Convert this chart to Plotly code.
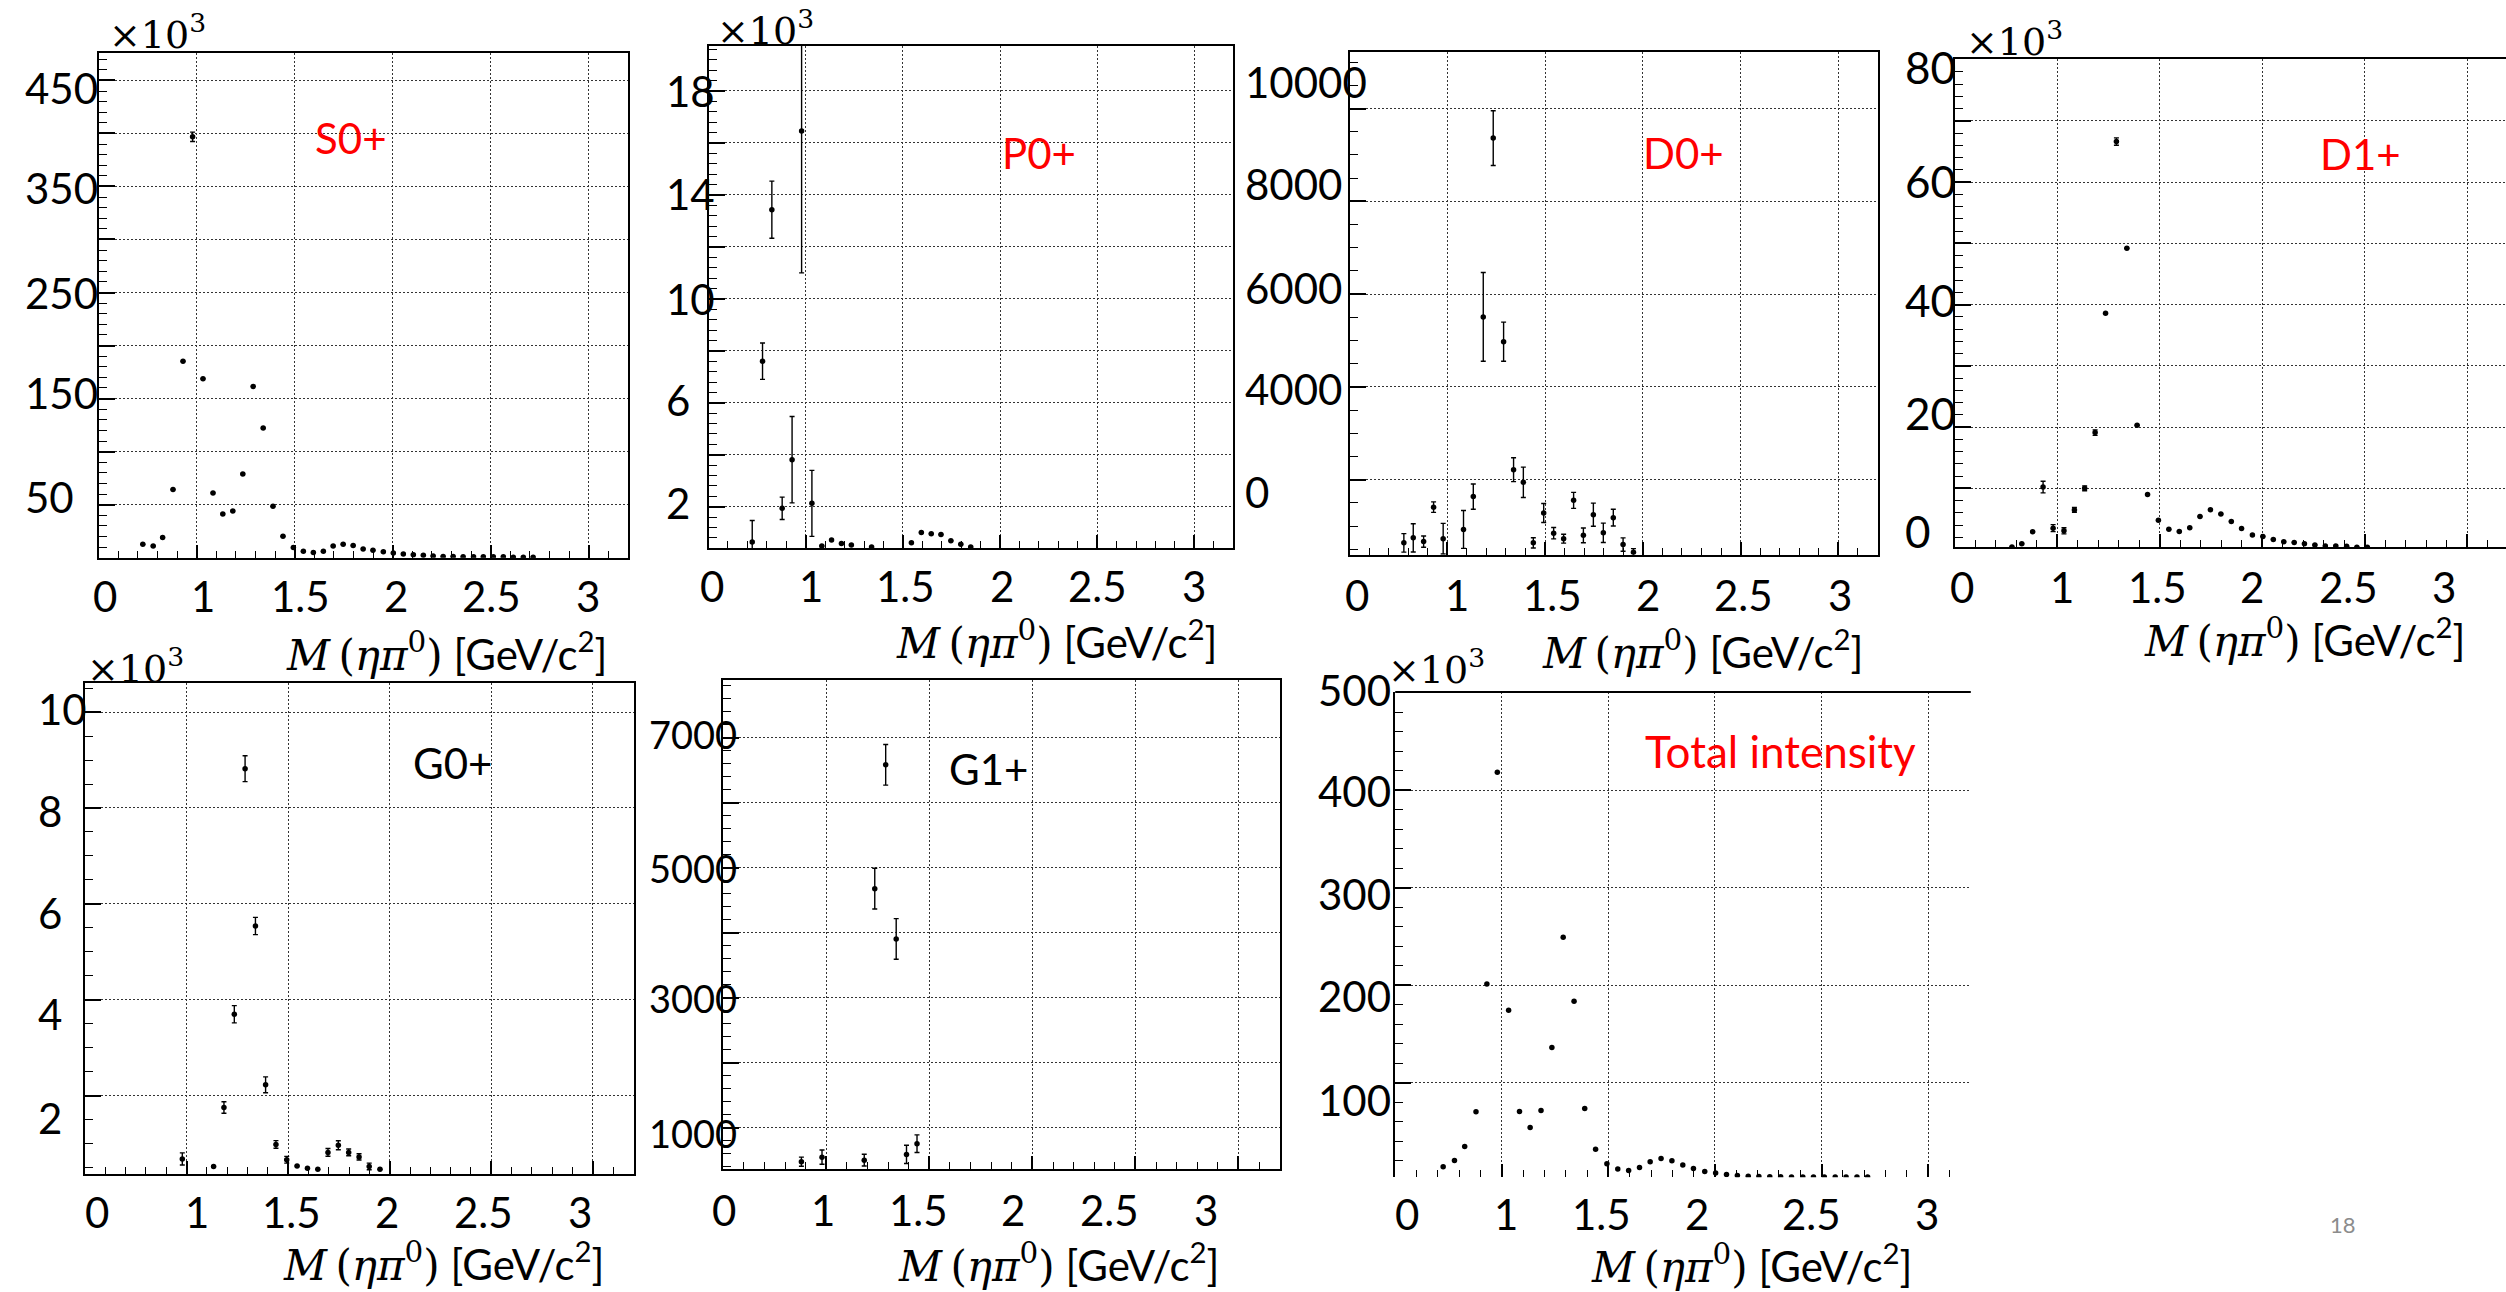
import plotly.graph_objects as go

# ---------------- data ----------------
# bin centres of M(eta pi0) [GeV/c^2], shared by all panels
mass = [0.725, 0.778, 0.826, 0.879, 0.930, 0.979, 1.032, 1.083, 1.133, 1.184,
        1.235, 1.288, 1.339, 1.389, 1.440, 1.493, 1.544, 1.595, 1.646, 1.696,
        1.747, 1.798, 1.849, 1.899, 1.952, 2.003, 2.054, 2.105, 2.156, 2.206,
        2.257, 2.308, 2.359, 2.412, 2.462, 2.513, 2.564, 2.615, 2.666, 2.716]
N = None

# S0+ (x10^3)
s0_y = [12.7, 11.1, 19.0, 64.3, 185.3, 396.8, 168.7, 61.1, 41.3, 44.0,
        79.0, 161.5, 122.2, 48.4, 20.2, 9.5, 6.0, 4.8, 6.0, 11.1,
        12.7, 11.5, 8.3, 7.1, 5.6, 4.4, 3.6, 2.8, 2.4, 1.6,
        1.2, 1.2, 0.8, 0.8, 0.8, 0.8, 0.8, 0.4, 0.4, 0.4]
s0_err = [0, 0, 0, 0, 0, 4.4, 0, 0, 0, 0,
          0, 0, 0, 0, 0, 0, 0, 0, 0, 0,
          0, 0, 0, 0, 0, 0, 0, 0, 0, 0,
          0, 0, 0, 0, 0, 0, 0, 0, 0, 0]

# P0+ (x10^3)
p0_y = [0.64, 7.60, 13.43, 1.94, 3.81, 16.46, 2.13, 0.49, 0.72, 0.59,
        0.53, N, 0.45, N, N, N, 0.61, 1.01, 0.96, 0.93,
        0.69, 0.56, 0.45, N, N, N, N, N, N, N,
        N, N, N, N, N, N, N, N, N, N]
p0_err = [0.83, 0.70, 1.10, 0.43, 1.66, 5.46, 1.27, 0, 0, 0,
          0, N, 0, N, N, N, 0, 0, 0, 0,
          0, 0, 0, N, N, N, N, N, N, N,
          N, N, N, N, N, N, N, N, N, N]

# D0+
d0_y = [N, 640, 748, 667, 1410, 730, N, 930, 1637, 5510,
        9365, 4975, 2218, 1946, 640, 1283, 848, 730, 1556, 803,
        1247, 857, 1184, 603, 440, N, N, N, N, N,
        N, N, N, N, N, N, N, N, N, N]
d0_err = [N, 200, 304, 122, 113, 331, N, 408, 272, 957,
          590, 422, 257, 327, 109, 204, 122, 95, 172, 159,
          249, 209, 181, 145, 77, N, N, N, N, N,
          N, N, N, N, N, N, N, N, N, N]

# D1+ (x10^3)
d1_y = [N, 0.42, 0.96, 2.9, 10.2, 3.5, 3.07, 6.48, 10.0, 19.1,
        38.6, 66.6, 49.2, 20.3, 9.0, 4.8, 3.3, 2.96, 3.55, 5.4,
        6.5, 5.8, 4.6, 3.45, 2.4, 2.15, 1.66, 1.28, 1.17, 0.96,
        0.75, 0.6, 0.6, 0.53, 0.39, 0.39, N, N, N, N]
d1_err = [N, 0, 0, 0, 0.95, 0.57, 0.5, 0.4, 0.4, 0.45,
          0, 0.6, 0, 0, 0, 0, 0, 0, 0, 0,
          0, 0, 0, 0, 0, 0, 0, 0, 0, 0,
          0, 0, 0, 0, 0, 0, N, N, N, N]

# G0+ (x10^3)
g0_y = [N, N, N, N, N, 0.683, N, N, 0.527, 1.757,
        3.70, 8.82, 5.54, 2.23, 0.986, 0.666, 0.536, 0.49, 0.466, 0.82,
        0.969, 0.82, 0.726, 0.527, 0.466, N, N, N, N, N,
        N, N, N, N, N, N, N, N, N, N]
g0_err = [N, N, N, N, N, 0.126, N, N, 0, 0.12,
          0.18, 0.27, 0.18, 0.165, 0.08, 0.07, 0, 0, 0, 0.08,
          0.095, 0.07, 0.065, 0.07, 0, N, N, N, N, N,
          N, N, N, N, N, N, N, N, N, N]

# G1+
g1_y = [N, N, N, 477, N, 547, N, N, N, 501,
        4678, 6584, 3904, 589, 754, N, N, N, N, N,
        N, N, N, N, N, N, N, N, N, N,
        N, N, N, N, N, N, N, N, N, N]
g1_err = [N, N, N, 70, N, 110, N, N, N, 90,
          313, 313, 313, 140, 136, N, N, N, N, N,
          N, N, N, N, N, N, N, N, N, N,
          N, N, N, N, N, N, N, N, N, N]

# Total intensity (x10^3)
tot_y = [13.8, 20.4, 34.8, 70.3, 201.5, 418.6, 174.6, 70.7, 54.3, 71.7,
         136.3, 249.3, 183.6, 73.7, 32.0, 16.9, 11.5, 10.2, 13.2, 19.0,
         22.4, 20.0, 15.6, 12.2, 9.1, 7.4, 6.0, 5.0, 4.3, 4.0,
         3.6, 3.6, 3.5, 3.5, 3.5, 3.4, 3.4, 3.4, 3.3, 3.3]

# tick labels (texts and positions in axis units, as pasted on the slide)
xtick_text = ["0", "1", "1.5", "2", "2.5", "3"]
s0_xtick_pos = [0.530, 1.032, 1.529, 2.016, 2.503, 2.996]
p0_xtick_pos = [0.516, 1.029, 1.513, 2.011, 2.502, 3.000]
d0_xtick_pos = [0.538, 1.048, 1.538, 2.025, 2.516, 3.006]
d1_xtick_pos = [0.532, 1.020, 1.489, 1.951, 2.420, 2.887]
g0_xtick_pos = [0.559, 1.050, 1.518, 1.988, 2.464, 2.936]
g1_xtick_pos = [0.501, 0.983, 1.448, 1.908, 2.373, 2.840]
tot_xtick_pos = [0.555, 1.022, 1.468, 1.918, 2.455, 2.995]

s0_ytick_text = ["450", "350", "250", "150", "50"]
s0_ytick_pos = [443, 349, 250, 155, 57.5]
p0_ytick_text = ["18", "14", "10", "6", "2"]
p0_ytick_pos = [18.0, 14.03, 10.0, 6.11, 2.15]
d0_ytick_text = ["10000", "8000", "6000", "4000", "0"]
d0_ytick_pos = [10571, 8377, 6127, 3950, 1726]
d1_ytick_text = ["80", "60", "40", "20", "0"]
d1_ytick_pos = [78.7, 60.1, 40.8, 22.3, 3.1]
g0_ytick_text = ["10", "8", "6", "4", "2"]
g0_ytick_pos = [10.07, 7.94, 5.82, 3.70, 1.53]
g1_ytick_text = ["7000", "5000", "3000", "1000"]
g1_ytick_pos = [7064, 4998, 2989, 912]
tot_ytick_text = ["500", "400", "300", "200", "100"]
tot_ytick_pos = [502.8, 399.2, 294, 189.4, 82.3]

panel_names = ["S0+", "P0+", "D0+", "D1+", "G0+", "G1+", "Total intensity"]

# ---------------- layout ----------------
W, H = 2506, 1292
FONT = "Lato"
SERIF = "DejaVu Serif"

panels = [
    dict(name=panel_names[0], y=s0_y, e=s0_err, box=(98.7, 628.0, 52.6, 557.7),
         xr=(0.5, 3.2), yr=(0.0, 476.2), g=50, m=10,
         xt=s0_xtick_pos, xpy=596, yt=(s0_ytick_text, s0_ytick_pos), yleft=22.8, ysize=42,
         title=(609, 651), exp=(107, 32), lab=(351, 138), col="red", mirror_y=True, bottom=True),
    dict(name=panel_names[1], y=p0_y, e=p0_err, box=(708.5, 1233.3, 45.5, 548.4),
         xr=(0.5, 3.2), yr=(0.397, 19.75), g=2, m=0.4,
         xt=p0_xtick_pos, xpy=586, yt=(p0_ytick_text, p0_ytick_pos), yleft=663.9, ysize=42,
         title=(1219, 640), exp=(715, 28), lab=(1039, 153), col="red", mirror_y=True, bottom=True),
    dict(name=panel_names[2], y=d0_y, e=d0_err, box=(1349.5, 1877.5, 51.8, 554.7),
         xr=(0.5, 3.2), yr=(385, 11224), g=2000, m=500,
         xt=d0_xtick_pos, xpy=595, yt=(d0_ytick_text, d0_ytick_pos), yleft=1242.8, ysize=42,
         title=(1865, 649), exp=None, lab=(1683, 153), col="red", mirror_y=True, bottom=True),
    dict(name=panel_names[3], y=d1_y, e=d1_err, box=(1955.0, 2506.0, 58.9, 547.2),
         xr=(0.5, 3.19), yr=(0.39, 80.1), g=10, m=2,
         xt=d1_xtick_pos, xpy=587, yt=(d1_ytick_text, d1_ytick_pos), yleft=1903.4, ysize=44,
         title=(2467, 638), exp=(1964, 39), lab=(2360, 154), col="red", mirror_y=False, bottom=True),
    dict(name=panel_names[4], y=g0_y, e=g0_err, box=(85.0, 633.5, 682.8, 1173.5),
         xr=(0.5, 3.2), yr=(0.38, 10.61), g=2, m=0.5,
         xt=g0_xtick_pos, xpy=1212, yt=(g0_ytick_text, g0_ytick_pos), yleft=35.8, ysize=42,
         title=(606, 1261), exp=(85, 666), lab=(452, 763), col="black", mirror_y=True, bottom=True),
    dict(name=panel_names[5], y=g1_y, e=g1_err, box=(723.3, 1279.7, 679.5, 1168.9),
         xr=(0.5, 3.2), yr=(366, 7896), g=1000, m=200,
         xt=g1_xtick_pos, xpy=1210, yt=(g1_ytick_text, g1_ytick_pos), yleft=646.5, ysize=38,
         title=(1221, 1262), exp=None, lab=(988, 769), col="black", mirror_y=True, bottom=True),
    dict(name=panel_names[6], y=tot_y, e=None, box=(1395.2, 1970.8, 692.0, 1177.2),
         xr=(0.5, 3.2), yr=(3.2, 501.0), g=100, m=20,
         xt=tot_xtick_pos, xpy=1214, yt=(tot_ytick_text, tot_ytick_pos), yleft=1315.5, ysize=42,
         title=(1914, 1263), exp=(1386, 667), lab=(1780, 751), col="red", mirror_y=False, bottom=False),
]

fig = go.Figure()
annotations = []
shapes = []

TITLE = ('<span style="font-family:DejaVu Serif;font-size:42px"><i>M</i>\u2009(<i>\u03b7\u03c0</i>'
         '<sup>0</sup>)</span> [GeV/c<sup>2</sup>]')

for i, p in enumerate(panels, start=1):
    sfx = "" if i == 1 else str(i)
    L, R, T, B = p["box"]
    x0, x1 = p["xr"]
    y0, y1 = p["yr"]

    def xpaper(v, L=L, R=R, x0=x0, x1=x1):
        return (L + (v - x0) / (x1 - x0) * (R - L)) / W

    def ypaper(v, T=T, B=B, y0=y0, y1=y1):
        return 1 - (B - (v - y0) / (y1 - y0) * (B - T)) / H

    err = None
    if p["e"] is not None:
        err = dict(type="data", array=p["e"], visible=True, color="black",
                   thickness=1.4, width=2.5)
    fig.add_trace(go.Scatter(
        x=mass, y=p["y"], mode="markers",
        marker=dict(color="black", size=5.5),
        error_y=err, cliponaxis=True, showlegend=False,
        xaxis="x" + sfx, yaxis="y" + sfx, name=p["name"]))

    fig.layout["xaxis" + sfx] = dict(
        domain=[L / W, R / W], range=[x0, x1], anchor="y" + sfx,
        showline=p["bottom"], linecolor="black", linewidth=2, mirror=p["bottom"],
        ticks="inside", tickmode="linear", tick0=1, dtick=0.5, ticklen=13,
        tickwidth=1.5, tickcolor="black", showticklabels=False,
        showgrid=True, gridcolor="#333333", gridwidth=1, griddash="2px,2px",
        zeroline=False,
        minor=dict(ticks="inside", ticklen=7, tickwidth=1.2, tickcolor="black",
                   tick0=0, dtick=0.1, showgrid=False))
    fig.layout["yaxis" + sfx] = dict(
        domain=[1 - B / H, 1 - T / H], range=[y0, y1], anchor="x" + sfx,
        showline=True, linecolor="black", linewidth=2, mirror=p["mirror_y"],
        ticks="inside", tickmode="linear", tick0=0, dtick=p["g"], ticklen=16,
        tickwidth=1.5, tickcolor="black", showticklabels=False,
        showgrid=True, gridcolor="#333333", gridwidth=1, griddash="2px,2px",
        zeroline=False,
        minor=dict(ticks="inside", ticklen=8, tickwidth=1.2, tickcolor="black",
                   tick0=0, dtick=p["m"], showgrid=False))

    if not p["bottom"]:
        shapes.append(dict(type="line", xref="x" + sfx + " domain", yref="y" + sfx + " domain",
                           x0=0, x1=1, y0=1, y1=1, line=dict(color="black", width=2)))

    # x tick labels
    for txt, v in zip(xtick_text, p["xt"]):
        annotations.append(dict(text=txt, x=xpaper(v), y=1 - p["xpy"] / H,
                                xref="paper", yref="paper", xanchor="center", yanchor="middle",
                                showarrow=False, font=dict(family=FONT, size=42, color="black")))
    # y tick labels (left aligned, as pasted)
    for txt, v in zip(*p["yt"]):
        annotations.append(dict(text=txt, x=p["yleft"] / W, y=ypaper(v),
                                xref="paper", yref="paper", xanchor="left", yanchor="middle",
                                showarrow=False, font=dict(family=FONT, size=p["ysize"], color="black")))
    # axis title
    tx, ty = p["title"]
    annotations.append(dict(text=TITLE, x=tx / W, y=1 - ty / H, xref="paper", yref="paper",
                            xanchor="right", yanchor="middle", showarrow=False,
                            font=dict(family=FONT, size=42, color="black")))
    # exponent
    if p["exp"] is not None:
        ex, ey = p["exp"]
        annotations.append(dict(text="\u00d710<sup>3</sup>", x=ex / W, y=1 - ey / H,
                                xref="paper", yref="paper", xanchor="left", yanchor="middle",
                                showarrow=False, font=dict(family=SERIF, size=38, color="black")))
    # panel label
    lx, ly = p["lab"]
    annotations.append(dict(text=p["name"], x=lx / W, y=1 - ly / H, xref="paper", yref="paper",
                            xanchor="center", yanchor="middle", showarrow=False,
                            font=dict(family=FONT, size=44 if i == 7 else 42, color=p["col"])))

# slide page number
annotations.append(dict(text="18", x=2343 / W, y=1 - 1224 / H, xref="paper", yref="paper",
                        xanchor="center", yanchor="middle", showarrow=False,
                        font=dict(family=FONT, size=22, color="#8c8c8c")))

fig.update_layout(width=W, height=H, margin=dict(l=0, r=0, t=0, b=0),
                  paper_bgcolor="white", plot_bgcolor="white",
                  annotations=annotations, shapes=shapes, showlegend=False)

fig.write_html("out.html")
